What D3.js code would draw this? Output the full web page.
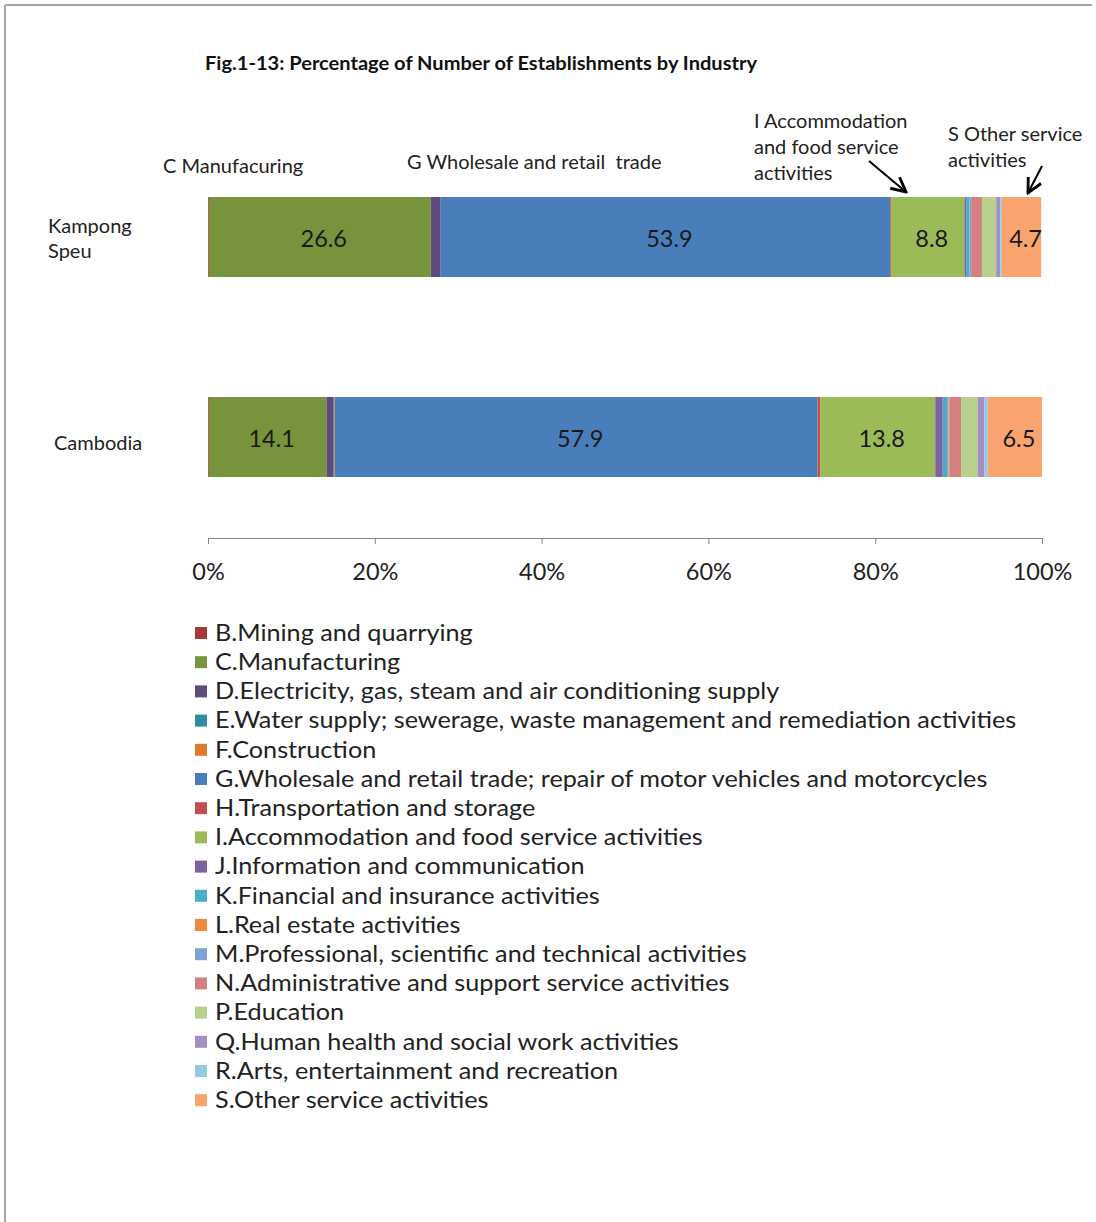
<!DOCTYPE html>
<html lang="en">
<head>
<meta charset="UTF-8">
<title>Fig.1-13: Percentage of Number of Establishments by Industry</title>
<script src="https://d3js.org/d3.v7.min.js"></script>
<style>
  body { margin: 0; background: #fff; }
  svg { display: block; font-family: Lato, "Open Sans", sans-serif; }
</style>
</head>
<body>
<svg id="chart" width="1096" height="1222"></svg>
<script>
// ---- data ----
var regions = ["Kampong Speu", "Cambodia"];

var industries = [
  "B.Mining and quarrying",
  "C.Manufacturing",
  "D.Electricity, gas, steam and air conditioning supply",
  "E.Water supply; sewerage, waste management and remediation activities",
  "F.Construction",
  "G.Wholesale and retail trade; repair of motor vehicles and motorcycles",
  "H.Transportation and storage",
  "I.Accommodation and food service activities",
  "J.Information and communication",
  "K.Financial and insurance activities",
  "L.Real estate activities",
  "M.Professional, scientific and technical activities",
  "N.Administrative and support service activities",
  "P.Education",
  "Q.Human health and social work activities",
  "R.Arts, entertainment and recreation",
  "S.Other service activities"
];

var colors = ["#a33b3b", "#77933c", "#604a7b", "#2e8c9e", "#de7a2f", "#4a7ebb",
              "#c0504d", "#9bbb59", "#7f63a1", "#4bacc6", "#f08a3a", "#7ea2d6",
              "#d57f7e", "#b7d08e", "#a38fc3", "#93cddd", "#f9a46e"];

// percent shares, same order as industries
var kampongSpeu = [0.1, 26.6, 1.2, 0.0, 0.0, 53.9, 0.1, 8.8, 0.2, 0.4, 0.0, 0.2, 1.3, 1.7, 0.5, 0.2, 4.7];
var cambodia    = [0.1, 14.1, 0.8, 0.1, 0.1, 57.9, 0.3, 13.8, 0.9, 0.6, 0.1, 0.1, 1.4, 2.0, 0.8, 0.4, 6.5];

// only these segments carry a value label
var labelled = ["C.Manufacturing",
                "G.Wholesale and retail trade; repair of motor vehicles and motorcycles",
                "I.Accommodation and food service activities",
                "S.Other service activities"];

var xTicks = [0, 20, 40, 60, 80, 100];

// ---- setup ----
var svg = d3.select("#chart");

// frame lines (top + left)
svg.append("line").attr("x1", 5).attr("x2", 1092).attr("y1", 5).attr("y2", 5)
  .attr("stroke", "#a6a6a6").attr("stroke-width", 2);
svg.append("line").attr("x1", 5).attr("x2", 5).attr("y1", 5).attr("y2", 1222)
  .attr("stroke", "#a6a6a6").attr("stroke-width", 2);

svg.append("text")
  .attr("x", 205).attr("y", 70)
  .attr("font-weight", "bold")
  .attr("font-size", 18.5)
  .attr("textLength", 552)
  .attr("lengthAdjust", "spacingAndGlyphs")
  .attr("fill", "#111")
  .text("Fig.1-13: Percentage of Number of Establishments by Industry");

var x = d3.scaleLinear().domain([0, 100]).range([208, 1042]);
var y = d3.scaleBand().domain(regions).range([77, 597]).paddingInner(0.6).paddingOuter(0.6);
var color = d3.scaleOrdinal().domain(industries).range(colors);

// stretch text a bit wider (reference font is broader than Lato)
function widen(sel, k) {
  sel.each(function() {
    var w = this.getComputedTextLength();
    d3.select(this).attr("textLength", w * k).attr("lengthAdjust", "spacingAndGlyphs");
  });
}

// build table for stack
var table = regions.map(function(r, i) {
  var row = { region: r };
  var vals = i === 0 ? kampongSpeu : cambodia;
  industries.forEach(function(k, j) { row[k] = vals[j]; });
  return row;
});

var series = d3.stack().keys(industries)(table);

var layers = svg.append("g")
  .selectAll("g")
  .data(series)
  .join("g")
    .attr("fill", function(d) { return color(d.key); });

layers.selectAll("rect")
  .data(function(d) { return d; })
  .join("rect")
    .attr("x", function(d) { return x(d[0]); })
    .attr("y", function(d) { return y(d.data.region); })
    .attr("width", function(d) { return x(d[1]) - x(d[0]); })
    .attr("height", y.bandwidth());

// value labels
layers.filter(function(d) { return labelled.indexOf(d.key) >= 0; })
  .selectAll("text")
  .data(function(d) { return d; })
  .join("text")
    .attr("x", function(d) { return (x(d[0]) + x(d[1])) / 2 + 4; })
    .attr("y", function(d) { return y(d.data.region) + y.bandwidth() / 2 + 2; })
    .attr("dy", "0.35em")
    .attr("text-anchor", "middle")
    .attr("font-size", 23.5)
    .attr("fill", "#1a1a1a")
    .text(function(d) { return (d[1] - d[0]).toFixed(1); });

// category labels
svg.append("text").attr("x", 48).attr("y", y("Kampong Speu") + 36)
  .attr("font-size", 20).attr("fill", "#222")
  .selectAll("tspan").data(["Kampong", "Speu"]).join("tspan")
    .attr("x", 48).attr("dy", function(d, i) { return i ? 25 : 0; })
    .text(function(d) { return d; });
svg.append("text").attr("x", 54).attr("y", y("Cambodia") + y.bandwidth() / 2 + 6)
  .attr("dy", "0.35em").attr("font-size", 20).attr("fill", "#222")
  .text("Cambodia");

// x axis
var xAxis = svg.append("g")
  .attr("transform", "translate(0,538)")
  .call(d3.axisBottom(x).tickValues(xTicks).tickSize(6).tickPadding(19)
    .tickFormat(function(d) { return d + "%"; }));
xAxis.select(".domain").attr("stroke", "#868686");
xAxis.selectAll(".tick line").attr("stroke", "#868686");
xAxis.selectAll(".tick text").attr("font-size", 23.5).attr("fill", "#222")
  .attr("font-family", "Lato, sans-serif");

// annotations
var notes = [
  { x: 163, y: 173, lines: ["C Manufacuring"] },
  { x: 407, y: 169, lines: ["G Wholesale and retail  trade"] },
  { x: 754, y: 128, lines: ["I Accommodation", "and food service", "activities"] },
  { x: 948, y: 141, lines: ["S Other service", "activities"] }
];
notes.forEach(function(n) {
  svg.append("text").attr("x", n.x).attr("y", n.y)
    .attr("font-size", 20).attr("fill", "#222")
    .style("white-space", "pre")
    .selectAll("tspan").data(n.lines).join("tspan")
      .attr("x", n.x).attr("dy", function(d, i) { return i ? 26 : 0; })
      .text(function(d) { return d; });
});

svg.append("defs").append("marker")
  .attr("id", "arrow").attr("viewBox", "0 0 10 10")
  .attr("refX", 9).attr("refY", 5)
  .attr("markerWidth", 9).attr("markerHeight", 9)
  .attr("orient", "auto")
  .append("path").attr("d", "M1,1 L9,5 L1,9").attr("fill", "none")
  .attr("stroke", "#000").attr("stroke-width", 1.6);

var arrows = [[869, 161, 906, 192], [1042, 166, 1028, 193]];
svg.selectAll(".arrow").data(arrows).join("line")
  .attr("class", "arrow")
  .attr("x1", function(d) { return d[0]; }).attr("y1", function(d) { return d[1]; })
  .attr("x2", function(d) { return d[2]; }).attr("y2", function(d) { return d[3]; })
  .attr("stroke", "#000").attr("stroke-width", 2)
  .attr("marker-end", "url(#arrow)");

// legend
var legend = svg.append("g").selectAll("g")
  .data(industries)
  .join("g")
    .attr("transform", function(d, i) { return "translate(195," + (633 + i * 29.2) + ")"; });

legend.append("rect")
  .attr("x", 0).attr("y", -6).attr("width", 12).attr("height", 12)
  .attr("fill", function(d) { return color(d); });

legend.append("text")
  .attr("x", 20).attr("dy", "0.35em")
  .attr("font-size", 22.5).attr("fill", "#222")
  .text(function(d) { return d; })
  .call(widen, 1.12);
</script>
</body>
</html>
